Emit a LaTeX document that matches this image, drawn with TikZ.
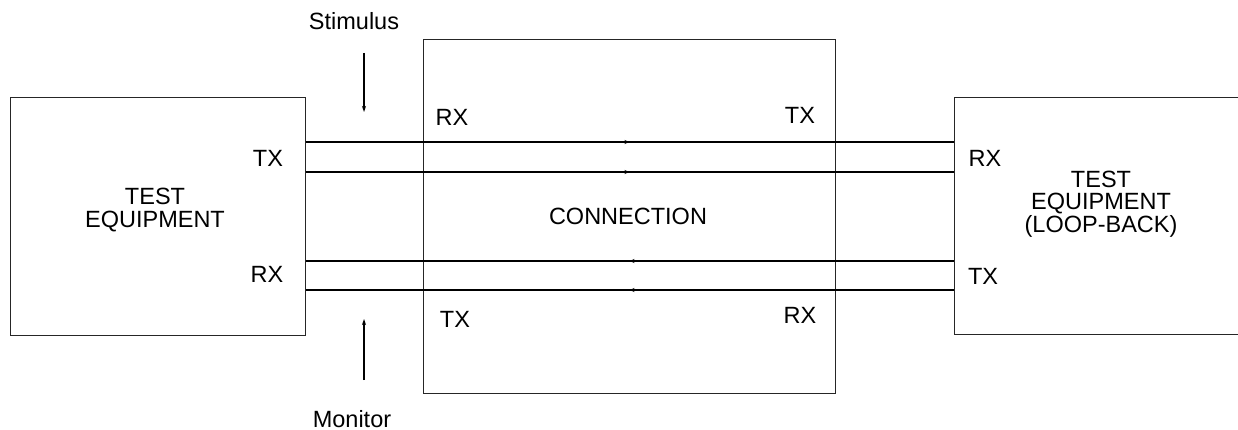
\documentclass[tikz,border=0pt]{standalone}
\usepackage{fontspec}
\setmainfont{Liberation Sans}
\usetikzlibrary{arrows.meta,decorations.markings}
\begin{document}
\begin{tikzpicture}[x=1pt,y=-1pt,
  every node/.style={font=\fontsize{23.5}{22.5}\selectfont, inner sep=0pt},
  box/.style={draw=black!85, line width=1pt, rectangle, inner sep=0pt},
  label/.style={align=center},
  wire/.style={line width=2.2pt},
  thinwire/.style={line width=1.3pt},
  midtip/.style={postaction={decorate}, decoration={markings,
     mark=at position 0.5 with {\arrow{Stealth[length=5pt,width=4pt]}}}},
  probe/.style={line width=1.5pt, -{Stealth[length=6pt,width=4pt]}}]
\useasboundingbox (0,0) rectangle (1238,430);
\clip (0,0) rectangle (1238,430);
\fill[white] (0,0) rectangle (1238,430);
% boxes
\node[box, minimum width=295pt, minimum height=237pt] (L) at (157.5,216.5) {};
\node[box, minimum width=412pt, minimum height=353pt] (M) at (629,216.5) {};
\node[box, minimum width=346pt, minimum height=236pt] (R) at (1127,216) {};
% box texts
\node[label] (lt) at (155,210) {TEST\\EQUIPMENT};
\node (ct) at (628,216) {CONNECTION};
\node[label] (rt) at (1101,204) {TEST\\EQUIPMENT\\(LOOP-BACK)};
% port labels
\node (ltx) at (268,158) {TX};
\node (lrx) at (267,274) {RX};
\node (mrx1) at (452,117) {RX};
\node (mtx1) at (800,115) {TX};
\node (mtx2) at (455,319) {TX};
\node (mrx2) at (800,315) {RX};
\node (rrx) at (985,158) {RX};
\node (rtx) at (983,276) {TX};
% wires
\draw[wire, midtip] (L.east |- 0,142) -- (R.west |- 0,142);
\draw[wire, midtip] (L.east |- 0,172) -- (R.west |- 0,172);
\draw[thinwire, midtip] (R.west |- 0,261) -- (L.east |- 0,261);
\draw[wire, midtip] (R.west |- 0,290) -- (L.east |- 0,290);
% stimulus / monitor
\node (stim) at (354,21) {Stimulus};
\node (mon) at (352,419) {Monitor};
\coordinate (s1) at (364,53);
\coordinate (s2) at (364,112);
\coordinate (m1) at (364,380);
\coordinate (m2) at (364,319);
\draw[probe] (s1) -- (s2);
\draw[probe] (m1) -- (m2);
\end{tikzpicture}
\end{document}
